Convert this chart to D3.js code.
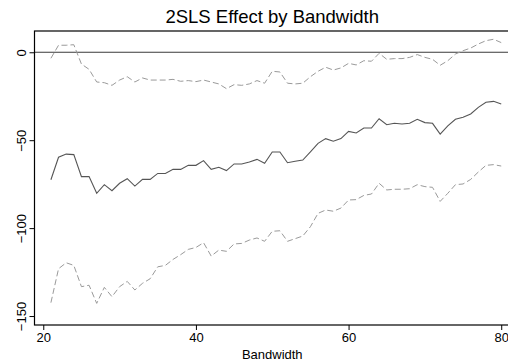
<!DOCTYPE html>
<html>
<head>
<meta charset="utf-8">
<script src="https://cdn.jsdelivr.net/npm/d3@7"></script>
<style>
  body { margin: 0; background: #fff; }
  svg { display: block; font-family: "Liberation Sans", Arial, sans-serif; }
</style>
</head>
<body>
<div id="chart"></div>
<script>
// bandwidth values on the x axis
var bandwidth = [21,22,23,24,25,26,27,28,29,30,31,32,33,34,35,36,37,38,39,40,
                 41,42,43,44,45,46,47,48,49,50,51,52,53,54,55,56,57,58,59,60,
                 61,62,63,64,65,66,67,68,69,70,71,72,73,74,75,76,77,78,79,80]

// 2SLS point estimate
var estimate = [-72.5,-59.7,-57.9,-58.2,-70.7,-70.7,-80.2,-75.3,-78.7,-74.5,
                -71.9,-76.1,-72.3,-72.3,-68.9,-68.9,-66.6,-66.6,-64.3,-64.3,
                -61.6,-66.6,-65.4,-67.3,-63.5,-63.5,-62.4,-60.9,-63.1,-56.7,
                -56.7,-62.8,-62.0,-61.3,-56.7,-51.8,-49.1,-50.6,-49.1,-45.0,
                -45.9,-43.1,-43.1,-37.8,-41.2,-40.4,-40.8,-40.4,-38.1,-40.0,
                -40.4,-46.5,-41.9,-38.1,-37.0,-35.1,-31.3,-28.4,-27.9,-29.4]

// upper and lower confidence bounds
var upper = [-3.4,4.0,4.0,4.3,-6.7,-9.7,-16.9,-17.3,-18.8,-15.8,
             -13.9,-16.9,-14.6,-15.8,-15.8,-15.8,-15.4,-16.5,-16.1,-16.7,
             -15.8,-16.9,-18.0,-20.7,-18.4,-18.8,-18.0,-16.1,-17.6,-10.8,
             -11.2,-17.6,-18.0,-17.6,-13.9,-10.8,-8.5,-10.1,-8.9,-6.3,
             -7.2,-4.8,-5.1,-0.6,-4.0,-3.6,-3.6,-2.9,-1.3,-2.9,
             -4.0,-7.4,-4.8,-1.0,0.9,2.4,4.7,6.6,7.4,5.5]

var lower = [-142.4,-123.1,-119.7,-121.2,-133.3,-132.5,-142.8,-133.7,-139.0,-133.3,
             -130.3,-135.2,-131.4,-128.8,-122.0,-121.2,-117.8,-115.1,-112.1,-111.0,
             -108.3,-115.9,-112.5,-113.2,-109.0,-108.7,-106.8,-105.6,-107.5,-101.8,
             -101.5,-107.5,-106.0,-104.5,-99.2,-91.6,-89.7,-90.4,-88.6,-84.0,
             -83.8,-81.4,-80.6,-74.5,-78.3,-77.9,-77.9,-77.6,-75.3,-76.4,
             -76.8,-84.8,-80.2,-75.3,-74.9,-72.3,-68.1,-64.3,-63.9,-64.7]

var xTicks = [20, 40, 60, 80]
var yTicks = [0, -50, -100, -150]

var W = 508, H = 364
var margin = {top: 31, right: -2, bottom: 39, left: 34.5}

var svg = d3.select("#chart").append("svg")
    .attr("width", W)
    .attr("height", H)

var x = d3.scaleLinear()
    .domain([18.85, 81.15])
    .range([margin.left, W - margin.right])

var y = d3.scaleLinear()
    .domain([12.1, -155.1])
    .range([margin.top, H - margin.bottom])

// title
svg.append("text")
    .attr("x", (margin.left + W - margin.right) / 2)
    .attr("y", 23)
    .attr("text-anchor", "middle")
    .attr("font-size", "18.5px")
    .text("2SLS Effect by Bandwidth")

// zero reference line
svg.append("line")
    .attr("x1", margin.left).attr("x2", W - margin.right)
    .attr("y1", y(0)).attr("y2", y(0))
    .attr("stroke", "#3a3a3a")
    .attr("stroke-width", 1.1)

var line = function(vals) {
  return d3.line()
    .x(function(d, i) { return x(bandwidth[i]) })
    .y(function(d) { return y(d) })(vals)
}

// confidence bounds (dashed)
;[upper, lower].forEach(function(s) {
  svg.append("path")
    .attr("d", line(s))
    .attr("fill", "none")
    .attr("stroke", "#9a9a9a")
    .attr("stroke-width", 1)
    .attr("stroke-dasharray", "6,3")
})

// estimate (solid)
svg.append("path")
    .attr("d", line(estimate))
    .attr("fill", "none")
    .attr("stroke", "#555")
    .attr("stroke-width", 1.1)

// frame
svg.append("rect")
    .attr("x", margin.left)
    .attr("y", margin.top)
    .attr("width", W - margin.right - margin.left)
    .attr("height", H - margin.bottom - margin.top)
    .attr("fill", "none")
    .attr("stroke", "#000")
    .attr("stroke-width", 1.2)

// x axis
var gx = svg.append("g")
    .attr("transform", "translate(0," + (H - margin.bottom) + ")")
    .call(d3.axisBottom(x).tickValues(xTicks).tickSize(5).tickSizeOuter(0))
gx.select(".domain").remove()
gx.selectAll("text")
    .attr("font-size", "13px")
    .attr("font-family", "Liberation Sans, Arial, sans-serif")
    .attr("fill", "#000")
    .attr("y", 8)
gx.selectAll("line").attr("stroke", "#000")

// y axis, labels turned vertical
var gy = svg.append("g")
    .attr("transform", "translate(" + margin.left + ",0)")
    .call(d3.axisLeft(y).tickValues(yTicks).tickSize(5).tickSizeOuter(0))
gy.select(".domain").remove()
gy.selectAll("line").attr("stroke", "#000")
gy.selectAll("text")
    .attr("font-size", "13px")
    .attr("font-family", "Liberation Sans, Arial, sans-serif")
    .attr("fill", "#000")
    .attr("transform", "rotate(-90)")
    .attr("x", 0)
    .attr("y", -9)
    .attr("dy", 0)
    .style("text-anchor", "middle")

// x axis title
svg.append("text")
    .attr("x", (margin.left + W - margin.right) / 2)
    .attr("y", 358.5)
    .attr("text-anchor", "middle")
    .attr("font-size", "13px")
    .text("Bandwidth")
</script>
</body>
</html>
